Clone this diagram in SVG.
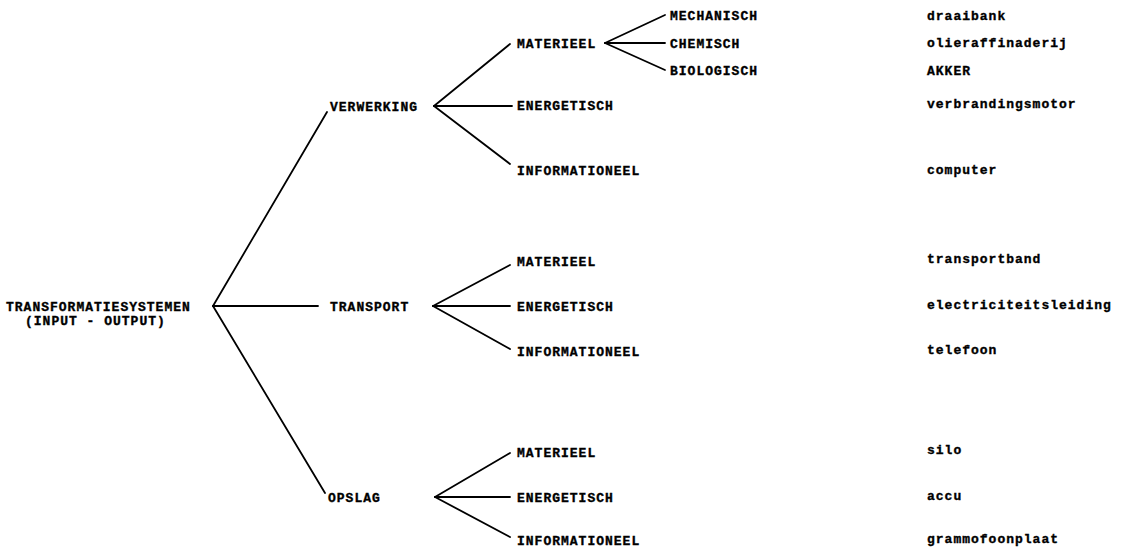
<svg xmlns="http://www.w3.org/2000/svg" width="1128" height="548" viewBox="0 0 1128 548">
  <style>
    text { font-family: "Liberation Mono", "DejaVu Sans Mono", monospace; font-weight: bold; font-size: 13px; letter-spacing: 1px; fill: #000; stroke: #000; stroke-width: 0.35; }
    .edge { stroke: #000; stroke-width: 1.8; fill: none; stroke-linecap: round; }
  </style>
  <rect width="1128" height="548" fill="#fff"/>

  <!-- tree branches -->
  <g id="connectors">
    <!-- root -->
    <line class="edge" x1="213" y1="306" x2="327" y2="112"/>
    <line class="edge" x1="213" y1="306" x2="318" y2="306"/>
    <line class="edge" x1="213" y1="306" x2="325" y2="493"/>
    <!-- verwerking -->
    <line class="edge" x1="434" y1="106" x2="510" y2="44"/>
    <line class="edge" x1="434" y1="106" x2="512" y2="106"/>
    <line class="edge" x1="434" y1="106" x2="510" y2="164"/>
    <!-- materieel (verwerking) -->
    <line class="edge" x1="605" y1="43" x2="665" y2="15"/>
    <line class="edge" x1="605" y1="43" x2="665" y2="43"/>
    <line class="edge" x1="605" y1="43" x2="665" y2="70"/>
    <!-- transport -->
    <line class="edge" x1="433" y1="306" x2="510" y2="265"/>
    <line class="edge" x1="433" y1="306" x2="510" y2="306"/>
    <line class="edge" x1="433" y1="306" x2="510" y2="349"/>
    <!-- opslag -->
    <line class="edge" x1="435" y1="497" x2="510" y2="453"/>
    <line class="edge" x1="435" y1="497" x2="510" y2="497"/>
    <line class="edge" x1="435" y1="497" x2="510" y2="537"/>
  </g>

  <g id="root">
    <text x="6" y="311">TRANSFORMATIESYSTEMEN</text>
    <text x="25" y="325">(INPUT - OUTPUT)</text>
  </g>

  <g id="verwerking"><text x="330" y="111">VERWERKING</text></g>
  <g id="transport"><text x="330" y="311">TRANSPORT</text></g>
  <g id="opslag"><text x="328" y="502">OPSLAG</text></g>

  <g id="verwerking-materieel"><text x="517" y="48">MATERIEEL</text></g>
  <g id="verwerking-energetisch"><text x="517" y="110">ENERGETISCH</text></g>
  <g id="verwerking-informationeel"><text x="517" y="175">INFORMATIONEEL</text></g>

  <g id="mechanisch"><text x="670" y="20">MECHANISCH</text></g>
  <g id="chemisch"><text x="670" y="48">CHEMISCH</text></g>
  <g id="biologisch"><text x="670" y="75">BIOLOGISCH</text></g>

  <g id="transport-materieel"><text x="517" y="266">MATERIEEL</text></g>
  <g id="transport-energetisch"><text x="517" y="311">ENERGETISCH</text></g>
  <g id="transport-informationeel"><text x="517" y="356">INFORMATIONEEL</text></g>

  <g id="opslag-materieel"><text x="517" y="457">MATERIEEL</text></g>
  <g id="opslag-energetisch"><text x="517" y="502">ENERGETISCH</text></g>
  <g id="opslag-informationeel"><text x="517" y="545">INFORMATIONEEL</text></g>

  <!-- examples -->
  <g id="examples">
    <text x="927" y="20">draaibank</text>
    <text x="927" y="47">olieraffinaderij</text>
    <text x="927" y="75">AKKER</text>
    <text x="927" y="108">verbrandingsmotor</text>
    <text x="927" y="174">computer</text>
    <text x="927" y="263">transportband</text>
    <text x="927" y="309">electriciteitsleiding</text>
    <text x="927" y="354">telefoon</text>
    <text x="927" y="454">silo</text>
    <text x="927" y="500">accu</text>
    <text x="927" y="543">grammofoonplaat</text>
  </g>
</svg>
